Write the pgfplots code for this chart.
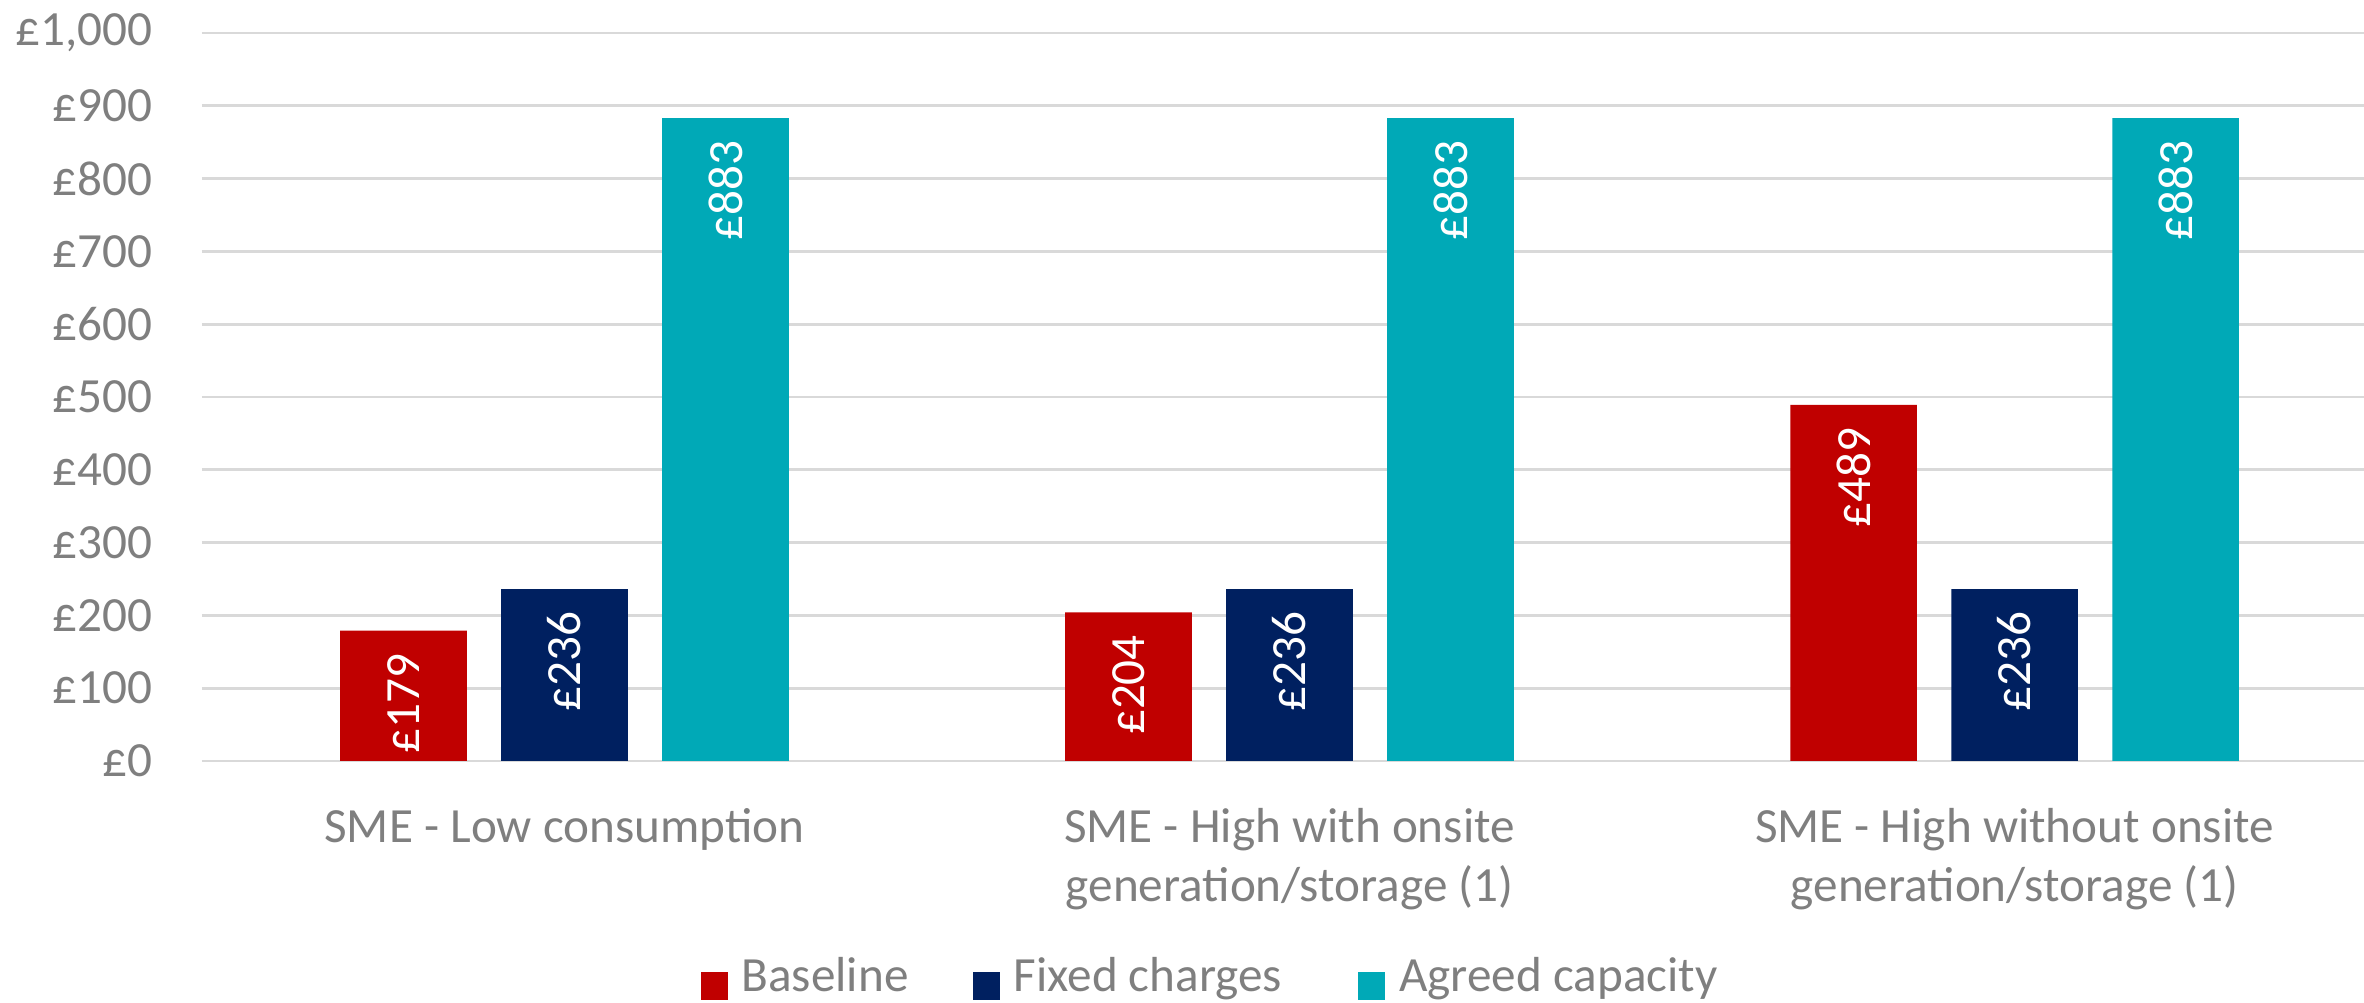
\documentclass[border=0pt]{standalone}
\usepackage{pgfplots}
\pgfplotsset{compat=1.18}
\usepackage{fontspec}
\setmainfont{Carlito}

\definecolor{baseRed}{HTML}{C00000}
\definecolor{fixedNavy}{HTML}{002060}
\definecolor{capTeal}{HTML}{00A9B7}
\definecolor{txtGrey}{HTML}{7F7F7F}
\definecolor{gridGrey}{HTML}{D9D9D9}

\newcommand{\chartfont}{\fontsize{14}{16.8}\selectfont}

\begin{document}
\begin{tikzpicture}
\begin{axis}[
  name=ax,
  scale only axis,
  width=21.62cm, height=7.28cm,
  ybar=0.344cm, bar width=1.266cm,
  xmin=-0.5, xmax=2.482,
  ymin=0, ymax=1000,
  xtick={0,1,2},
  xticklabels={{\strut SME - Low consumption},
               {\strut SME - High with onsite\\generation/storage (1)},
               {\strut SME - High without onsite\\generation/storage (1)}},
  ytick={0,100,...,1000},
  yticklabels={£0,£100,£200,£300,£400,£500,£600,£700,£800,£900,{£1,000}},
  ymajorgrids,
  major grid style={draw=gridGrey, line width=0.8pt},
  axis line style={draw=none},
  major tick length=0pt,
  tick label style={font=\chartfont, text=txtGrey},
  yticklabel style={anchor=east, inner sep=0pt, xshift=-0.49cm},
  xticklabel style={anchor=north, inner sep=0pt, align=center, yshift=-0.39cm},
  point meta=explicit symbolic,
  nodes near coords={£\pgfplotspointmeta},
  every node near coord/.append style={rotate=90, anchor=east, text=white,
    font=\chartfont, inner xsep=0.22cm, inner ysep=0pt},
  legend columns=3,
  legend style={at={(0.4658,-0.299)}, anchor=center, draw=none, fill=none,
    font=\chartfont, text=txtGrey, inner sep=0pt, nodes={inner sep=0pt},
    /tikz/every odd column/.append style={column sep=0.14cm},
    /tikz/column 2/.style={column sep=0.64cm},
    /tikz/column 4/.style={column sep=0.76cm}},
  legend image code/.code={\fill[#1] (0cm,-0.22cm) rectangle (0.27cm,0.06cm);},
]
\addplot[fill=baseRed, draw=none]
  coordinates {(0,179) [179] (1,204) [204] (2,489) [489]};
\addplot[fill=fixedNavy, draw=none]
  coordinates {(0,236) [236] (1,236) [236] (2,236) [236]};
\addplot[fill=capTeal, draw=none]
  coordinates {(0,883) [883] (1,883) [883] (2,883) [883]};
\legend{Baseline, Fixed charges, Agreed capacity}
\end{axis}
\pgfresetboundingbox
\path[use as bounding box] (ax.south west) ++(-2.02cm,-2.42cm) rectangle ++(23.64cm,10.03cm);
\end{tikzpicture}
\end{document}
